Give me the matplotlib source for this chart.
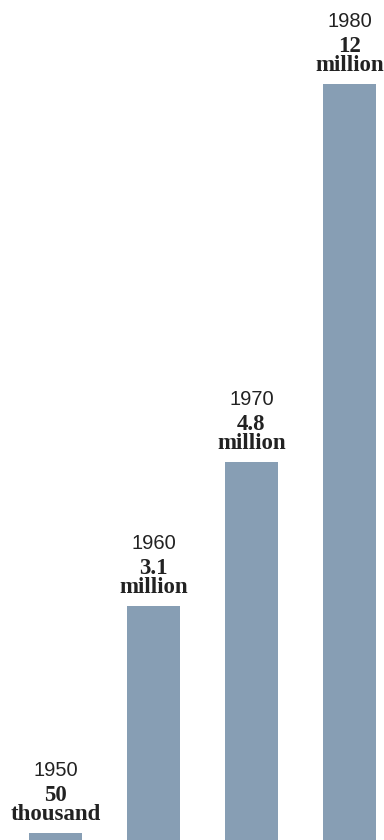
import matplotlib
matplotlib.use('Agg')
from matplotlib import pyplot as plt

# data
years = ['1950', '1960', '1970', '1980']
value_labels = [['50', 'thousand'], ['3.1', 'million'], ['4.8', 'million'], ['12', 'million']]
# drawn bar heights (picture scale, millions)
heights = [0.11, 3.71, 6.0, 12.0]

bar_color = '#879eb4'
text_color = '#222222'

fig = plt.figure(figsize=(3.84, 8.4), dpi=100)
ax = fig.add_axes([0, 0, 1, 1])
x = list(range(len(years)))
ax.bar(x, heights, width=0.541, color=bar_color, align='center')
ax.set_xlim(-0.566, 3.352)
ax.set_ylim(0, 13.333)
ax.axis('off')

for xi, h, yr, lines in zip(x, heights, years, value_labels):
    # year above the value
    ax.annotate(yr, (xi, h), xytext=(0, 57), textcoords='offset pixels',
                ha='center', va='baseline', fontsize=14.5,
                family='Liberation Sans', color=text_color)
    # value, two lines in bold serif
    ax.annotate(lines[0], (xi, h), xytext=(0, 32), textcoords='offset pixels',
                ha='center', va='baseline', fontsize=16.5, fontweight='bold',
                family='Liberation Serif', color=text_color)
    ax.annotate(lines[1], (xi, h), xytext=(0, 13), textcoords='offset pixels',
                ha='center', va='baseline', fontsize=16.5, fontweight='bold',
                family='Liberation Serif', color=text_color)

plt.savefig('out.png', dpi=100)
